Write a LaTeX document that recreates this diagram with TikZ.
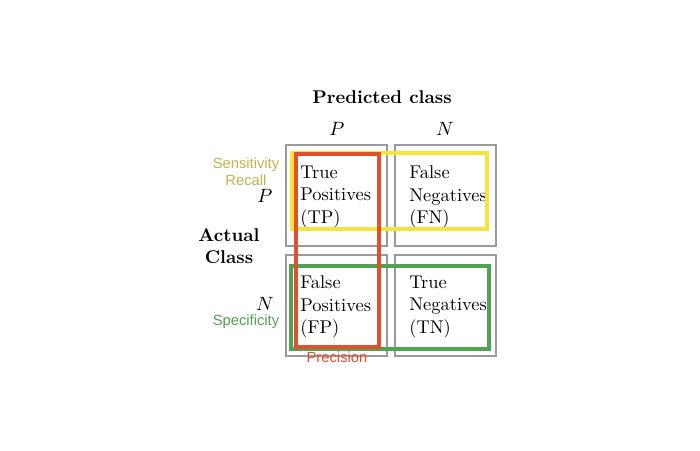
\documentclass[tikz,border=0pt]{standalone}
\usepackage{fontspec}
\newfontfamily\labelfont{Liberation Sans}
\usepackage{xcolor}
\definecolor{recallYellow}{HTML}{F4E43C}
\definecolor{recallText}{HTML}{C4B24A}
\definecolor{precisionRed}{HTML}{E0502E}
\definecolor{specGreen}{HTML}{4FA24F}
\definecolor{cellGray}{HTML}{9A9A9A}
\usetikzlibrary{positioning}
\tikzset{
    % Grey cell of the matrix
    cell/.style={
        draw=cellGray,
        line width=0.9pt,
        minimum width=2.02cm,
        minimum height=2.02cm,
        inner sep=0pt,
    },
    % Text inside a cell
    cell text/.style={
        font=\fontsize{10.5}{12.9}\selectfont,
        align=left,
        anchor=west,
        inner sep=0pt,
    },
    % Bold headings
    heading/.style={
        font=\fontsize{10.5}{12.6}\selectfont\bfseries,
        align=center,
    },
    % Class letters
    classlabel/.style={
        font=\fontsize{10.5}{12.6}\selectfont,
    },
    % Coloured metric labels
    metric/.style={
        font=\labelfont\fontsize{8.4}{9.7}\selectfont,
        align=center,
        inner sep=0pt,
    },
    % Coloured metric frames
    frame/.style={
        line width=2.1pt,
    },
}
\begin{document}
\begin{tikzpicture}[x=0.02cm, y=-0.02cm]
    \useasboundingbox (0,0) rectangle (700,450);

    % matrix cells
    \node (cellTP) [cell] at (336.5,195.5) {};
    \node (cellFN) [cell] at (445.5,195.5) {};
    \node (cellFP) [cell] at (336.5,305.5) {};
    \node (cellTN) [cell] at (445.5,305.5) {};

    \node (tp) [cell text] at (300,197) {True\\Positives\\(TP)};
    \node (fn) [cell text] at (409,197) {False\\Negatives\\(FN)};
    \node (fp) [cell text] at (300,307) {False\\Positives\\(FP)};
    \node (tn) [cell text] at (409,307) {True\\Negatives\\(TN)};

    % headings
    \node (predicted) [heading] at (382,97) {Predicted class};
    \node (actual) [heading] at (229,246) {Actual\\Class};
    \node (predP) [classlabel] at (337,129) {$P$};
    \node (predN) [classlabel] at (445,129) {$N$};
    \node (actP) [classlabel] at (265,196) {$P$};
    \node (actN) [classlabel] at (265,304) {$N$};

    % metric frames
    \draw [frame, draw=recallYellow] (292,153) rectangle (487,229);
    \draw [frame, draw=specGreen] (291,266) rectangle (489,349);
    \draw [frame, draw=precisionRed] (296,154) rectangle (379,347);

    % metric labels
    \node (recall) [metric, text=recallText] at (246,172) {Sensitivity\\Recall};
    \node (spec) [metric, text=specGreen] at (246,322) {Specificity};
    \node (prec) [metric, text=precisionRed] at (337,357) {Precision};
\end{tikzpicture}
\end{document}
